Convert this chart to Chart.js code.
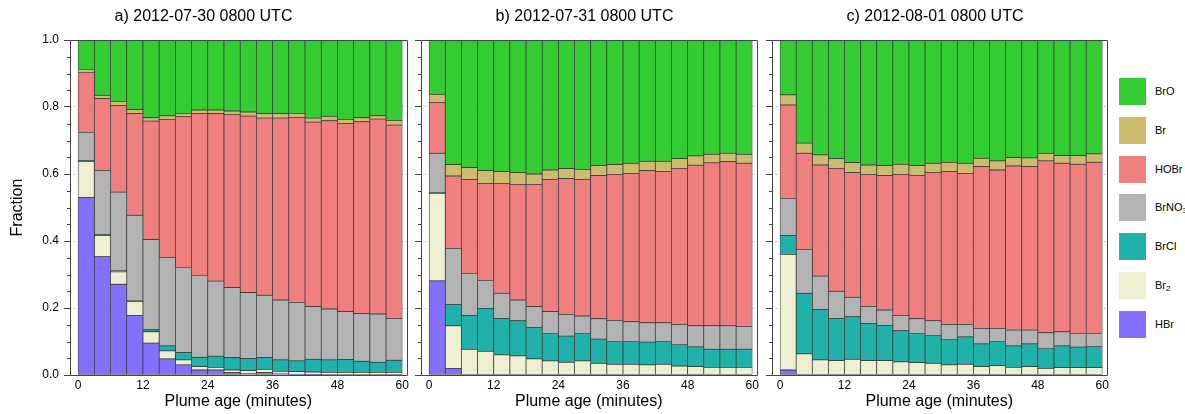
<!DOCTYPE html>
<html>
<head>
<meta charset="utf-8">
<script src="https://cdn.jsdelivr.net/npm/chart.js@4.4.1/dist/chart.umd.min.js"></script>
<style>
    html, body { margin: 0; padding: 0; background: #fff; }
    #wrap { position: relative; width: 1185px; height: 414px; overflow: hidden;
            font-family: 'Liberation Sans', Arial, Helvetica, sans-serif; }
    .panel { position: absolute; top: 0; height: 414px; }
    .leg { position: absolute; left: 1119px; height: 27px; }
    .leg .sw { position: absolute; left: 0; top: 0; width: 27px; height: 27px; }
    .leg .tx { position: absolute; left: 36px; top: 0; line-height: 27px; font-size: 11px; color: #000; white-space: nowrap; }
    .leg sub { font-size: 8px; vertical-align: -2px; line-height: 0; }
</style>
</head>
<body>
<div id="wrap">
    <div class="panel" style="left:0;width:412px"><canvas id="panelA" width="412" height="414"></canvas></div>
    <div class="panel" style="left:412px;width:350px"><canvas id="panelB" width="350" height="414"></canvas></div>
    <div class="panel" style="left:762px;width:350px"><canvas id="panelC" width="350" height="414"></canvas></div>
    <div id="legend"></div>
</div>
<script>
// ─── Data ───
const ages = [1.5, 4.5, 7.5, 10.5, 13.5, 16.5, 19.5, 22.5, 25.5, 28.5,
              31.5, 34.5, 37.5, 40.5, 43.5, 46.5, 49.5, 52.5, 55.5, 58.5];
const xTicks = [0, 12, 24, 36, 48, 60];
const yTicks = [0, 0.2, 0.4, 0.6, 0.8, 1.0];
const yMinorTicks = [0.05, 0.1, 0.15, 0.25, 0.3, 0.35, 0.45, 0.5, 0.55, 0.65, 0.7, 0.75, 0.85, 0.9, 0.95];

// a) 2012-07-30
const hbrA   = [0.530, 0.353, 0.271, 0.178, 0.095, 0.048, 0.030, 0.015, 0.015, 0.007, 0.005, 0.007, 0.003, 0.002, 0.001, 0, 0, 0, 0, 0];
const br2A   = [0.107, 0.063, 0.037, 0.041, 0.034, 0.024, 0.015, 0.010, 0.008, 0.008, 0.008, 0.010, 0.008, 0.008, 0.008, 0.008, 0.008, 0.008, 0.008, 0.008];
const brclA  = [0.003, 0.003, 0.003, 0.002, 0.006, 0.015, 0.022, 0.028, 0.033, 0.037, 0.036, 0.035, 0.034, 0.032, 0.038, 0.037, 0.038, 0.033, 0.030, 0.036];
const brno3A = [0.084, 0.192, 0.235, 0.256, 0.269, 0.264, 0.254, 0.244, 0.224, 0.209, 0.197, 0.186, 0.179, 0.175, 0.157, 0.152, 0.143, 0.142, 0.144, 0.125];
const hobrA  = [0.179, 0.214, 0.259, 0.303, 0.354, 0.412, 0.450, 0.484, 0.500, 0.517, 0.527, 0.529, 0.543, 0.552, 0.551, 0.562, 0.562, 0.573, 0.582, 0.577];
const brA    = [0.009, 0.010, 0.012, 0.012, 0.010, 0.011, 0.010, 0.010, 0.011, 0.010, 0.012, 0.013, 0.013, 0.012, 0.012, 0.013, 0.012, 0.012, 0.010, 0.014];
const broA   = [0.088, 0.165, 0.183, 0.208, 0.232, 0.226, 0.219, 0.209, 0.209, 0.212, 0.215, 0.220, 0.220, 0.219, 0.233, 0.228, 0.237, 0.232, 0.226, 0.240];

// b) 2012-07-31
const hbrB   = [0.281, 0.020, 0, 0, 0, 0, 0, 0, 0, 0, 0, 0, 0, 0, 0, 0, 0, 0, 0, 0];
const br2B   = [0.261, 0.127, 0.077, 0.071, 0.060, 0.057, 0.048, 0.042, 0.038, 0.042, 0.035, 0.032, 0.032, 0.030, 0.032, 0.027, 0.025, 0.023, 0.023, 0.023];
const brclB  = [0.002, 0.064, 0.101, 0.128, 0.109, 0.105, 0.094, 0.082, 0.078, 0.082, 0.072, 0.068, 0.068, 0.068, 0.068, 0.064, 0.059, 0.054, 0.054, 0.054];
const brno3B = [0.118, 0.167, 0.125, 0.083, 0.075, 0.062, 0.062, 0.065, 0.065, 0.052, 0.061, 0.063, 0.059, 0.058, 0.056, 0.060, 0.063, 0.070, 0.070, 0.068];
const hobrB  = [0.152, 0.216, 0.281, 0.290, 0.328, 0.345, 0.365, 0.395, 0.405, 0.408, 0.427, 0.436, 0.443, 0.454, 0.452, 0.466, 0.479, 0.486, 0.490, 0.487];
const brB    = [0.024, 0.034, 0.035, 0.038, 0.035, 0.035, 0.031, 0.028, 0.030, 0.030, 0.030, 0.029, 0.030, 0.028, 0.030, 0.029, 0.028, 0.026, 0.025, 0.027];
const broB   = [0.162, 0.372, 0.381, 0.390, 0.393, 0.396, 0.400, 0.388, 0.384, 0.386, 0.375, 0.372, 0.368, 0.362, 0.362, 0.354, 0.346, 0.341, 0.338, 0.341];

// c) 2012-08-01
const hbrC   = [0.015, 0, 0, 0, 0, 0, 0, 0, 0, 0, 0, 0, 0, 0, 0, 0, 0, 0, 0, 0];
const br2C   = [0.345, 0.063, 0.045, 0.043, 0.047, 0.043, 0.043, 0.039, 0.037, 0.035, 0.030, 0.032, 0.025, 0.028, 0.023, 0.025, 0.020, 0.022, 0.022, 0.022];
const brclC  = [0.057, 0.181, 0.151, 0.126, 0.127, 0.111, 0.105, 0.093, 0.087, 0.083, 0.076, 0.082, 0.068, 0.072, 0.064, 0.068, 0.059, 0.065, 0.061, 0.063];
const brno3C = [0.110, 0.131, 0.099, 0.081, 0.058, 0.051, 0.046, 0.046, 0.044, 0.044, 0.045, 0.037, 0.046, 0.039, 0.047, 0.041, 0.047, 0.042, 0.041, 0.039];
const hobrC  = [0.279, 0.287, 0.332, 0.367, 0.372, 0.394, 0.401, 0.421, 0.428, 0.443, 0.457, 0.451, 0.483, 0.473, 0.490, 0.488, 0.513, 0.503, 0.505, 0.511];
const brC    = [0.030, 0.030, 0.030, 0.029, 0.030, 0.028, 0.030, 0.030, 0.029, 0.027, 0.027, 0.030, 0.025, 0.027, 0.025, 0.026, 0.023, 0.023, 0.026, 0.025];
const broC   = [0.164, 0.308, 0.343, 0.354, 0.366, 0.373, 0.375, 0.371, 0.375, 0.368, 0.365, 0.368, 0.353, 0.361, 0.351, 0.352, 0.338, 0.345, 0.345, 0.340];

// stacking order, bottom to top
const species = ['HBr', 'Br₂', 'BrCl', 'BrNO₃', 'HOBr', 'Br', 'BrO'];
const speciesHtml = ['HBr', 'Br<sub>2</sub>', 'BrCl', 'BrNO<sub>3</sub>', 'HOBr', 'Br', 'BrO'];
const colors = ['#8470ff', '#eeeed1', '#20b2aa', '#b3b3b3', '#f08080', '#cdbb6f', '#33cc33'];

const FONT = "'Liberation Sans', Arial, Helvetica, sans-serif";
const AXIS = '#444';
Chart.defaults.font.family = FONT;
Chart.defaults.color = '#000';

// ─── frame round the plot + minor y ticks ───
const framePlugin = {
    id: 'frame',
    afterDraw(chart) {
        const { ctx, chartArea: a } = chart;
        const ys = chart.scales.y;
        const l = Math.round(a.left) + 0.5, r = Math.round(a.right) + 0.5;
        const t = Math.round(a.top) + 0.5, b = Math.round(a.bottom) + 0.5;
        ctx.save();
        ctx.strokeStyle = AXIS;
        ctx.lineWidth = 1;
        ctx.setLineDash([]);
        ctx.beginPath();
        ctx.rect(l, t, r - l, b - t);
        yMinorTicks.forEach(v => {
            const py = Math.round(ys.getPixelForValue(v)) + 0.5;
            ctx.moveTo(l - 3.5, py);
            ctx.lineTo(l, py);
        });
        ctx.stroke();
        ctx.restore();
    }
};

function makePanel(id, title, series, yWidth, padRight, showY) {
    const datasets = series.map((vals, i) => ({
        label: species[i],
        data: ages.map((a, j) => ({ x: a, y: vals[j] })),
        backgroundColor: colors[i],
        borderColor: 'rgba(45,45,45,0.9)',
        borderWidth: 0.75,
        borderSkipped: false,
        barPercentage: 1,
        categoryPercentage: 1
    }));
    new Chart(document.getElementById(id), {
        type: 'bar',
        data: { datasets },
        plugins: [framePlugin],
        options: {
            responsive: false,
            animation: false,
            layout: { padding: { left: 0, right: padRight, top: 0, bottom: 0 } },
            scales: {
                x: {
                    type: 'linear',
                    stacked: true,
                    offset: false,
                    min: -1.5,
                    max: 60.8,
                    afterBuildTicks: s => { s.ticks = xTicks.map(v => ({ value: v })); },
                    afterFit: s => { s.height = 39; },
                    ticks: { font: { size: 12 }, color: '#000', padding: 3, maxRotation: 0, autoSkip: false },
                    grid: { display: false, drawTicks: false, offset: false },
                    border: { display: false },
                    title: { display: true, text: 'Plume age (minutes)', font: { size: 16 }, color: '#000',
                             padding: { top: 0, bottom: 2.5 } }
                },
                y: {
                    stacked: true,
                    min: 0,
                    max: 1,
                    afterBuildTicks: s => { s.ticks = yTicks.map(v => ({ value: v })); },
                    afterFit: s => { s.width = yWidth; },
                    ticks: {
                        callback: v => showY ? v.toFixed(1) : '',
                        font: { size: 12 }, color: '#000', padding: 5
                    },
                    grid: { color: '#b0b0b0', tickLength: 6, tickColor: AXIS,
                            tickBorderDash: [0, 0], tickWidth: 1 },
                    border: { display: false, dash: [1, 3] },
                    title: { display: showY, text: 'Fraction', font: { size: 16 }, color: '#000',
                             padding: { top: 8, bottom: 0 } }
                }
            },
            plugins: {
                legend: { display: false },
                tooltip: { enabled: false },
                title: {
                    display: true, text: title, color: '#000',
                    font: { size: 16, weight: 'normal' },
                    padding: { top: 7, bottom: 13.8 }
                }
            }
        }
    });
}

makePanel('panelA', 'a) 2012-07-30 0800 UTC', [hbrA, br2A, brclA, brno3A, hobrA, brA, broA], 70, 5, true);
makePanel('panelB', 'b) 2012-07-31 0800 UTC', [hbrB, br2B, brclB, brno3B, hobrB, brB, broB], 9, 5, false);
makePanel('panelC', 'c) 2012-08-01 0800 UTC', [hbrC, br2C, brclC, brno3C, hobrC, brC, broC], 10, 4, false);

// ─── Legend (top to bottom: BrO … HBr) ───
const legTops = [78, 117, 156, 194, 233, 272, 311];
const legend = document.getElementById('legend');
for (let k = 0; k < species.length; k++) {
    const i = species.length - 1 - k;
    const item = document.createElement('div');
    item.className = 'leg';
    item.style.top = legTops[k] + 'px';
    item.innerHTML = `<span class="sw" style="background:${colors[i]}"></span><span class="tx">${speciesHtml[i]}</span>`;
    legend.appendChild(item);
}
</script>
</body>
</html>
